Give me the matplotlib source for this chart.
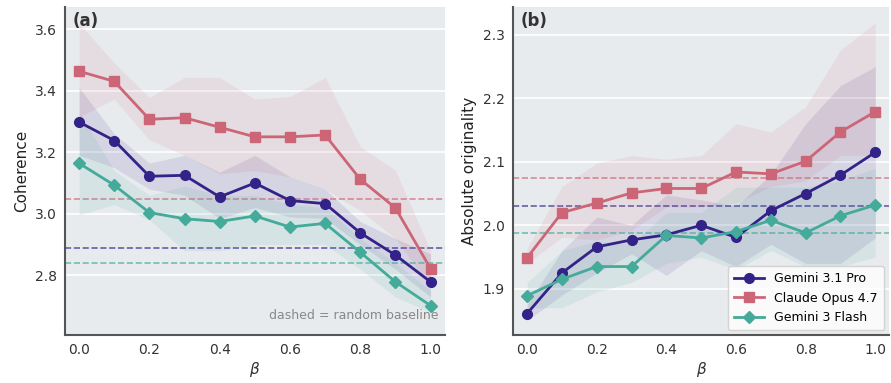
import matplotlib
matplotlib.use("Agg")
import matplotlib.pyplot as plt

beta = [0.0, 0.1, 0.2, 0.3, 0.4, 0.5, 0.6, 0.7, 0.8, 0.9, 1.0]
models = ["Gemini 3.1 Pro", "Claude Opus 4.7", "Gemini 3 Flash"]

# (a) coherence: mean, band low, band high
coh_pro = [3.298, 3.238, 3.122, 3.125, 3.055, 3.100, 3.043, 3.033, 2.938, 2.866, 2.779]
coh_pro_lo = [3.19, 3.15, 3.08, 3.06, 2.985, 3.02, 2.99, 2.985, 2.90, 2.82, 2.73]
coh_pro_hi = [3.41, 3.26, 3.165, 3.19, 3.135, 3.19, 3.12, 3.08, 2.975, 2.92, 2.87]
coh_opus = [3.463, 3.430, 3.307, 3.312, 3.281, 3.250, 3.250, 3.256, 3.112, 3.019, 2.822]
coh_opus_lo = [3.315, 3.372, 3.24, 3.19, 3.13, 3.14, 3.12, 3.08, 3.01, 2.92, 2.76]
coh_opus_hi = [3.62, 3.49, 3.378, 3.443, 3.443, 3.373, 3.381, 3.443, 3.218, 3.142, 2.88]
coh_flash = [3.164, 3.093, 3.004, 2.984, 2.975, 2.993, 2.957, 2.969, 2.875, 2.779, 2.702]
coh_flash_lo = [2.996, 3.03, 2.98, 2.88, 2.88, 2.90, 2.90, 2.90, 2.82, 2.73, 2.68]
coh_flash_hi = [3.33, 3.14, 3.06, 3.09, 3.06, 3.06, 3.03, 3.02, 2.92, 2.84, 2.75]
coh_base = [2.889, 3.049, 2.840]

# (b) absolute originality
ori_pro = [1.861, 1.925, 1.966, 1.977, 1.985, 2.000, 1.981, 2.023, 2.050, 2.079, 2.115]
ori_pro_lo = [1.85, 1.89, 1.925, 1.955, 1.921, 1.96, 1.935, 1.97, 1.94, 1.94, 1.98]
ori_pro_hi = [1.875, 1.96, 2.013, 2.00, 2.048, 2.04, 2.03, 2.08, 2.16, 2.22, 2.25]
ori_opus = [1.949, 2.020, 2.035, 2.051, 2.058, 2.058, 2.084, 2.081, 2.101, 2.147, 2.179]
ori_opus_lo = [1.940, 1.981, 1.977, 1.992, 2.029, 2.029, 2.035, 2.061, 2.07, 2.11, 2.11]
ori_opus_hi = [1.964, 2.061, 2.098, 2.110, 2.104, 2.110, 2.160, 2.147, 2.187, 2.276, 2.319]
ori_flash = [1.889, 1.915, 1.935, 1.935, 1.984, 1.980, 1.990, 2.008, 1.988, 2.015, 2.032]
ori_flash_lo = [1.87, 1.87, 1.895, 1.91, 1.94, 1.95, 1.93, 1.96, 1.935, 1.935, 1.95]
ori_flash_hi = [1.91, 1.96, 1.975, 1.97, 2.02, 2.02, 2.06, 2.06, 2.06, 2.07, 2.09]
ori_base = [2.030, 2.075, 1.988]

colors = ["#332288", "#CC6677", "#44AA99"]
markers = ["o", "s", "D"]

fig = plt.figure(figsize=(8.91, 3.83), dpi=100)
ax_a = fig.add_axes([0.073, 0.125, 0.426, 0.857])
ax_b = fig.add_axes([0.576, 0.125, 0.422, 0.857])


def panel(ax, means, los, his, bases, ylabel, tag, ylim, yticks):
    ax.set_facecolor("#e8ebee")
    for m, lo, hi, base, c, mk, name in zip(means, los, his, bases, colors, markers, models):
        ax.fill_between(beta, lo, hi, color=c, alpha=0.11, linewidth=0)
        ax.axhline(base, color=c, ls="--", lw=1.2, alpha=0.7, zorder=1)
        ax.plot(beta, m, color=c, marker=mk, lw=2, ms=7 if mk != "D" else 6.5,
                label=name, zorder=3)
    ax.set_xlim(-0.04, 1.04)
    ax.set_ylim(*ylim)
    ax.set_yticks(yticks)
    ax.set_xticks([0.0, 0.2, 0.4, 0.6, 0.8, 1.0])
    ax.grid(True, axis="y", color="white", lw=1.2)
    ax.set_axisbelow(True)
    for s in ["top", "right"]:
        ax.spines[s].set_visible(False)
    for s in ["left", "bottom"]:
        ax.spines[s].set_color("#555555")
        ax.spines[s].set_linewidth(1.5)
    ax.tick_params(length=0, labelsize=10, labelcolor="#333333", pad=6)
    ax.set_xlabel(r"$\beta$", fontsize=11, color="#333333", labelpad=2)
    ax.set_ylabel(ylabel, fontsize=11, color="#222222")
    ax.text(0.02, 0.985, tag, transform=ax.transAxes, fontsize=12,
            fontweight="bold", color="#333333", va="top")


panel(ax_a, [coh_pro, coh_opus, coh_flash], [coh_pro_lo, coh_opus_lo, coh_flash_lo],
      [coh_pro_hi, coh_opus_hi, coh_flash_hi], coh_base, "Coherence", "(a)",
      (2.606, 3.672), [2.8, 3.0, 3.2, 3.4, 3.6])
ax_a.text(0.985, 0.06, "dashed = random baseline", transform=ax_a.transAxes,
          ha="right", va="center", fontsize=9, color="#888888")

panel(ax_b, [ori_pro, ori_opus, ori_flash], [ori_pro_lo, ori_opus_lo, ori_flash_lo],
      [ori_pro_hi, ori_opus_hi, ori_flash_hi], ori_base, "Absolute originality", "(b)",
      (1.827, 2.344), [1.9, 2.0, 2.1, 2.2, 2.3])
leg = ax_b.legend(loc="lower right", fontsize=9, frameon=True, fancybox=True,
                  borderpad=0.5, handlelength=2.4, borderaxespad=0.4)
leg.get_frame().set_facecolor("white")
leg.get_frame().set_edgecolor("#cccccc")

fig.savefig("out.png", dpi=100)
